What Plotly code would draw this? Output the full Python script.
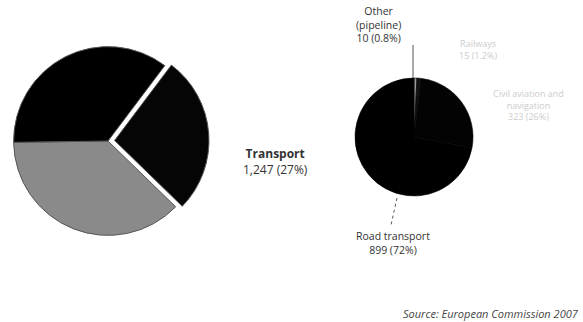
import plotly.graph_objects as go

W, H = 583, 322

# Left pie: total emissions by sector (transport exploded)
left_labels = ["Transport", "Other sectors", "Energy industries"]
left_values = [27, 37.5, 35.5]
left_colors = ["#050505", "#8a8a8a", "#000000"]
left_pull = [0.07, 0, 0]

# Right pie: transport breakdown
right_labels = ["Other (pipeline)", "Railways", "Civil aviation and navigation", "Road transport"]
right_values = [10, 15, 323, 899]
right_colors = ["#9a9a9a", "#111111", "#030303", "#000000"]

def px(x):
    return x / W

def py(y):
    return 1 - y / H

fig = go.Figure()
fig.add_trace(go.Pie(
    labels=left_labels, values=left_values, sort=False, direction="clockwise",
    rotation=37, pull=left_pull, textinfo="none", hoverinfo="label+percent",
    marker=dict(colors=left_colors, line=dict(color="#555555", width=1)),
    domain=dict(x=[px(7), px(209)], y=[py(242), py(40)]), showlegend=False,
))
fig.add_trace(go.Pie(
    labels=right_labels, values=right_values, sort=False, direction="clockwise",
    rotation=0, textinfo="none", hoverinfo="label+value+percent",
    marker=dict(colors=right_colors, line=dict(color="#000000", width=0.6)),
    domain=dict(x=[px(355), px(473)], y=[py(196), py(78)]), showlegend=False,
))

font = "Open Sans, DejaVu Sans, sans-serif"
ann = [
    (275, 161, "<b>Transport</b><br>1,247 (27%)", 12, "#333333", "center"),
    (378, 24, "Other<br>(pipeline)<br>10 (0.8%)", 10.5, "#333333", "center"),
    (478, 49, "Railways<br>15 (1.2%)", 9, "#cccccc", "center"),
    (528, 105, "Civil aviation and<br>navigation<br>323 (26%)", 9, "#cccccc", "center"),
    (393, 243, "Road transport<br>899 (72%)", 10.5, "#333333", "center"),
]
annotations = []
for x, y, t, s, c, al in ann:
    annotations.append(dict(x=px(x), y=py(y), xref="paper", yref="paper", text=t,
                            showarrow=False, align=al, xanchor="center", yanchor="middle",
                            font=dict(family=font, size=s, color=c)))
annotations.append(dict(x=px(581), y=py(313), xref="paper", yref="paper",
                        text="<i>Source: European Commission 2007</i>", showarrow=False,
                        xanchor="right", yanchor="middle",
                        font=dict(family=font, size=11, color="#444444")))

shapes = [
    dict(type="line", xref="paper", yref="paper", x0=px(413), y0=py(45), x1=px(413), y1=py(78),
         line=dict(color="#555555", width=1)),
    dict(type="line", xref="paper", yref="paper", x0=px(397), y0=py(198), x1=px(391), y1=py(225),
         line=dict(color="#555555", width=1, dash="dot")),
]

fig.update_layout(width=W, height=H, margin=dict(l=0, r=0, t=0, b=0),
                  paper_bgcolor="white", plot_bgcolor="white",
                  annotations=annotations, shapes=shapes)
fig.write_html("out.html")
